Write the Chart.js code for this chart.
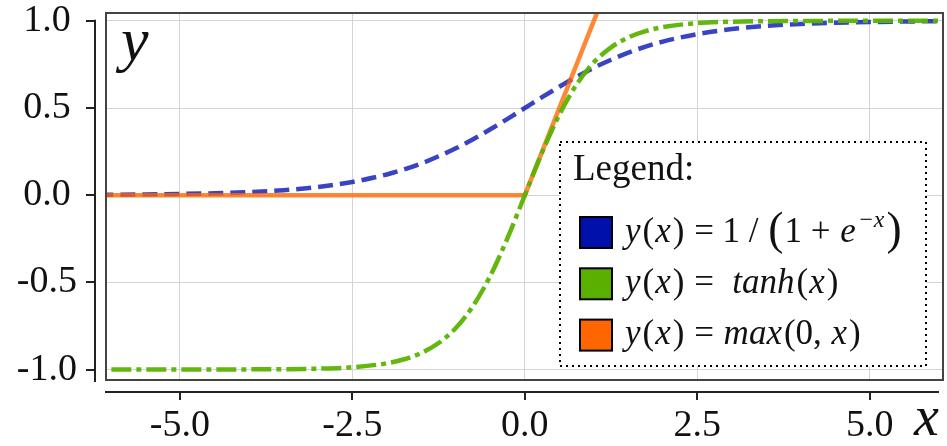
<!DOCTYPE html>
<html>
<head>
<meta charset="utf-8">
<script src="https://cdn.jsdelivr.net/npm/chart.js@4.4.1/dist/chart.umd.min.js"></script>
<style>
  html, body { margin: 0; padding: 0; background: #fff; }
</style>
</head>
<body>
<canvas id="myChart" width="947" height="446"></canvas>
<script>
// values
const xValues = [-6.5, -6, -5.5, -5, -4.5, -4, -3.5, -3, -2.5, -2, -1.75, -1.5, -1.25, -1, -0.75, -0.5, -0.25,
    0, 0.25, 0.5, 0.75, 1, 1.25, 1.5, 1.75, 2, 2.5, 3, 3.5, 4, 4.5, 5, 5.5, 6, 6.5];
const sigmoidValues = [0.0015, 0.0025, 0.004, 0.007, 0.011, 0.018, 0.029, 0.047, 0.076, 0.119, 0.148, 0.182, 0.223, 0.269, 0.321, 0.378, 0.438,
    0.5, 0.562, 0.622, 0.679, 0.731, 0.777, 0.818, 0.852, 0.881, 0.924, 0.953, 0.971, 0.982, 0.989, 0.993, 0.996, 0.998, 0.998];
const tanhValues = [-1, -1, -1, -1, -1, -0.999, -0.998, -0.995, -0.987, -0.964, -0.941, -0.905, -0.848, -0.762, -0.635, -0.462, -0.245,
    0, 0.245, 0.462, 0.635, 0.762, 0.848, 0.905, 0.941, 0.964, 0.987, 0.995, 0.998, 0.999, 1, 1, 1, 1, 1];
const reluX = [-6.5, 0, 6.5];
const reluValues = [0, 0, 6.5];

const xTicks = [-5, -2.5, 0, 2.5, 5];
const xTickLabels = ['-5.0', '-2.5', '0.0', '2.5', '5.0'];
const yTicks = [-1, -0.5, 0, 0.5, 1];
const yTickLabels = ['-1.0', '-0.5', '0.0', '0.5', '1.0'];

const seriesColors = ['rgba(0,16,180,0.78)', 'rgba(90,180,0,0.95)', 'rgba(255,102,0,0.78)'];
const legendColors = ['#0010aa', '#5ab000', '#ff6600'];

const serif = '"Liberation Serif", "DejaVu Serif", serif';

const toPoints = (xs, ys) => xs.map((x, i) => ({ x: x, y: ys[i] }));

// legend entries, written as runs of upright / italic text
const legendEntries = [
    [{ t: 'y', it: 1 }, { t: '(' }, { t: 'x', it: 1 }, { t: ')' }, { t: ' = 1 / ' }, { t: '(', big: 1 }, { t: '1 + ' },
     { t: 'e', it: 1 }, { t: '\u2212x', it: 1, sup: 1 }, { t: ')', big: 1 }],
    [{ t: 'y', it: 1 }, { t: '(' }, { t: 'x', it: 1 }, { t: ')' }, { t: ' =  ' }, { t: 'tanh', it: 1 }, { t: '(' }, { t: 'x', it: 1 }, { t: ')' }],
    [{ t: 'y', it: 1 }, { t: '(' }, { t: 'x', it: 1 }, { t: ')' }, { t: ' = ' }, { t: 'max', it: 1 }, { t: '(0, ' }, { t: 'x', it: 1 }, { t: ')' }]
];

function drawRuns(ctx, runs, x, y, size) {
    runs.forEach(r => {
        let s = size, dy = 0;
        if (r.sup) { s = size * 0.68; dy = -size * 0.42; }
        if (r.big) { s = size * 1.3; dy = size * 0.08; }
        ctx.font = (r.it ? 'italic ' : '') + s + 'px ' + serif;
        ctx.fillText(r.t, x, y + dy);
        x += ctx.measureText(r.t).width + (r.it ? 2 : 1);
    });
}

const framePlugin = {
    id: 'frame',
    afterDraw(chart) {
        const { ctx, chartArea: a, scales } = chart;
        const xs = scales.x, ys = scales.y;
        ctx.save();

        // legend box
        const lx = 560, ly = 142, lw = 366, lh = 224;
        ctx.fillStyle = '#fff';
        ctx.fillRect(lx, ly, lw, lh);
        ctx.strokeStyle = '#000';
        ctx.lineWidth = 2;
        ctx.setLineDash([2, 4]);
        ctx.strokeRect(lx, ly, lw, lh);
        ctx.setLineDash([]);
        ctx.fillStyle = '#111';
        ctx.textBaseline = 'alphabetic';
        ctx.textAlign = 'left';
        ctx.font = '37px ' + serif;
        ctx.fillText('Legend:', lx + 13, ly + 38);
        legendEntries.forEach((runs, i) => {
            const cy = 232.5 + i * 51.3;
            ctx.fillStyle = legendColors[i];
            ctx.fillRect(lx + 20, cy - 15.5, 32, 31);
            ctx.strokeStyle = '#000';
            ctx.lineWidth = 2;
            ctx.strokeRect(lx + 20, cy - 15.5, 32, 31);
            ctx.fillStyle = '#111';
            drawRuns(ctx, runs, lx + 65, cy + 9, 35);
        });

        // plot box
        ctx.strokeStyle = '#444';
        ctx.lineWidth = 2;
        ctx.strokeRect(a.left, a.top, a.right - a.left, a.bottom - a.top);

        // offset spines and tick marks
        ctx.strokeStyle = '#222';
        const sx = a.left - 11, sy = a.bottom + 12;
        ctx.beginPath();
        ctx.moveTo(sx, ys.getPixelForValue(1) - 1);
        ctx.lineTo(sx, a.bottom + 2);
        ctx.moveTo(a.left - 1, sy);
        ctx.lineTo(a.right - 4, sy);
        yTicks.forEach(v => {
            const p = Math.round(ys.getPixelForValue(v));
            ctx.moveTo(sx - 9, p);
            ctx.lineTo(sx, p);
        });
        xTicks.forEach(v => {
            const p = Math.round(xs.getPixelForValue(v));
            ctx.moveTo(p, sy);
            ctx.lineTo(p, sy + 8);
        });
        ctx.stroke();

        // axis names
        ctx.fillStyle = '#111';
        ctx.font = 'italic 62px ' + serif;
        ctx.fillText('y', a.left + 15, a.top + 47);
        ctx.font = 'italic 56px ' + serif;
        ctx.fillText('x', a.right - 29, a.bottom + 55);
        ctx.restore();
    }
};

new Chart(document.getElementById('myChart'), {
    type: 'line',
    data: {
        datasets: [
            {
                label: 'sigmoid',
                data: toPoints(xValues, sigmoidValues),
                borderColor: seriesColors[0],
                borderWidth: 4.5,
                borderDash: [15, 7],
                cubicInterpolationMode: 'monotone',
                pointRadius: 0,
                clip: 0,
                order: 2
            },
            {
                label: 'tanh',
                data: toPoints(xValues, tanhValues),
                borderColor: seriesColors[1],
                borderWidth: 4.5,
                borderDash: [20, 5, 5, 5],
                cubicInterpolationMode: 'monotone',
                pointRadius: 0,
                clip: 0,
                order: 0
            },
            {
                label: 'relu',
                data: toPoints(reluX, reluValues),
                borderColor: seriesColors[2],
                borderWidth: 4.5,
                tension: 0,
                pointRadius: 0,
                clip: 0,
                order: 1
            }
        ]
    },
    options: {
        responsive: false,
        animation: false,
        events: [],
        layout: { padding: { top: 13, right: 4, left: 0, bottom: 0 } },
        plugins: {
            legend: { display: false },
            tooltip: { enabled: false }
        },
        scales: {
            x: {
                type: 'linear',
                min: -6.07,
                max: 6.06,
                afterBuildTicks: (s) => { s.ticks = xTicks.map(v => ({ value: v })); },
                afterFit: (s) => { s.height = 66; s.paddingLeft = 0; s.paddingRight = 0; },
                grid: { color: '#d4d4d4', lineWidth: 1, drawTicks: false },
                border: { display: false },
                ticks: {
                    padding: 23,
                    color: '#111',
                    font: { family: serif, size: 38 },
                    maxRotation: 0,
                    autoSkip: false,
                    callback: (v, i) => xTickLabels[i]
                }
            },
            y: {
                type: 'linear',
                min: -1.06,
                max: 1.045,
                afterBuildTicks: (s) => { s.ticks = yTicks.map(v => ({ value: v })); },
                afterFit: (s) => { s.width = 106; s.paddingTop = 0; s.paddingBottom = 0; },
                grid: { color: '#d4d4d4', lineWidth: 1, drawTicks: false },
                border: { display: false },
                ticks: {
                    padding: 29,
                    crossAlign: 'center',
                    color: '#111',
                    font: { family: serif, size: 38 },
                    autoSkip: false,
                    callback: (v, i) => yTickLabels[i]
                }
            }
        }
    },
    plugins: [framePlugin]
});
</script>
</body>
</html>
